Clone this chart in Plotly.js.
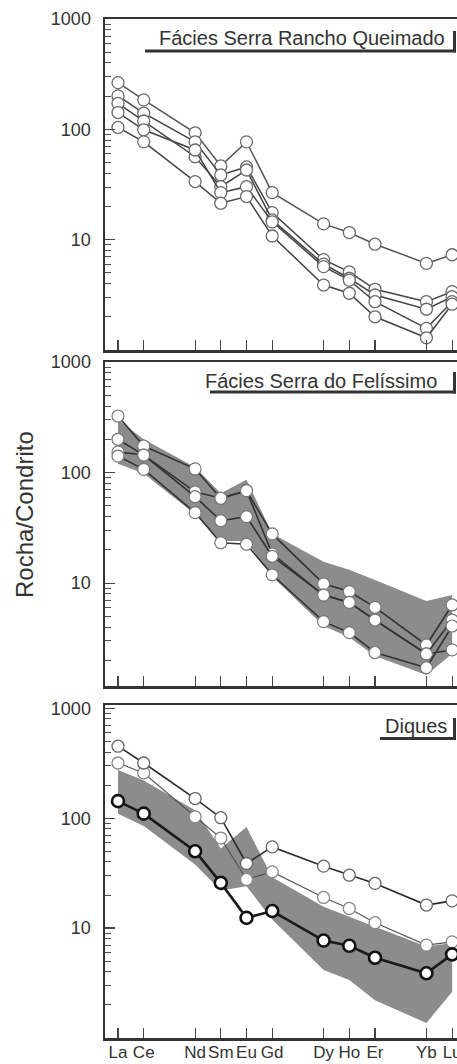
<!DOCTYPE html>
<html><head><meta charset="utf-8">
<script src="https://cdn.plot.ly/plotly-3.0.1.min.js"></script>
<style>html,body{margin:0;padding:0;background:#fff;overflow:hidden}</style>
</head><body><div id="chart" style="width:457px;height:1064px"></div>
<script>
// REE labels and their positions (atomic sequence, gaps for Pr, Pm, Tb, Tm)
const elements = ['La','Ce','Nd','Sm','Eu','Gd','Dy','Ho','Er','Yb','Lu'];
const elementPos = [0,1,3,4,5,6,8,9,10,12,13];

// Panel 1 – Fácies Serra Rancho Queimado
const rq1 = [265,185,93,46.6,77,26.7,13.9,11.6,9.1,6.1,7.3];
const rq2 = [201,140,77,38.6,45.6,17.6,6.6,5.1,3.55,2.74,3.38];
const rq3 = [172,119,56.5,30.2,42.8,15.1,6.0,4.47,3.15,2.34,3.04];
const rq4 = [142,99,65,26.7,30.2,14.5,5.7,4.3,2.74,1.57,2.74];
const rq5 = [104,77,33.6,21.4,24.6,10.8,3.88,3.27,2.0,1.29,2.6];

// Panel 2 – Fácies Serra do Felíssimo
const sf1 = [325,174,108,58.6,68.6,27.9,9.85,8.4,6.05,2.76,6.35];
const sf2 = [200,144,67,58.6,68.6,18.4,7.8,6.7,4.64,2.29,2.49];
const sf3 = [154,144,60.5,36.7,39.9,17.5,7.8,6.7,4.64,2.29,4.64];
const sf4 = [141,107,43.4,23.2,22.5,11.9,4.49,3.57,2.36,1.72,4.1];
const band2Upper = [300,200,112,65,86,28,15.6,13.2,10.7,6.9,7.8];
const band2Lower = [120,98,42,24,24,11.5,4.1,3.25,2.2,1.48,2.3];

// Panel 3 – Diques
const dqTop = [452,318,151,101,38.7,54.8,36.6,30.3,25.5,16.2,17.7];
const dqMid = [318,258,103,66,27.7,32.5,19,15.1,11.2,7.0,7.5];
const dqLow = [143,110,50,25.8,12.4,14.3,7.7,6.9,5.37,3.88,5.77];
const band3Upper = [275,220,118,53,83,29,15.6,12.6,10.3,6.8,7.3];
const band3Lower = [110,85,38,22,24,12,4.15,3.37,2.2,1.37,2.64];

const yTickVals = [10,100,1000];
const yTickText = ['10','100','1000'];

const W = 457, H = 1064;
const px = x => x / W;
const py = y => 1 - y / H;

function series(vals, xa, ya, lineColor, lineW, mkLine, mkLineW, mkSize) {
  return {
    x: elementPos, y: vals, xaxis: xa, yaxis: ya, type: 'scatter', mode: 'lines+markers',
    line: {color: lineColor, width: lineW},
    marker: {symbol: 'circle', size: mkSize || 12, color: '#ffffff', line: {color: mkLine, width: mkLineW}},
    showlegend: false, hoverinfo: 'skip', cliponaxis: false
  };
}
function band(up, lo, xa, ya) {
  return {
    x: elementPos.concat(elementPos.slice().reverse()),
    y: up.concat(lo.slice().reverse()),
    xaxis: xa, yaxis: ya, type: 'scatter', mode: 'lines', fill: 'toself',
    fillcolor: '#8c8c8c', line: {width: 0, color: '#8c8c8c'}, showlegend: false, hoverinfo: 'skip'
  };
}

const traces = [
  series(rq1,'x','y','#555',1.5,'#6a6a6a',1.3),
  series(rq2,'x','y','#444',1.5,'#6a6a6a',1.3),
  series(rq3,'x','y','#444',1.5,'#6a6a6a',1.3),
  series(rq4,'x','y','#444',1.5,'#6a6a6a',1.3),
  series(rq5,'x','y','#444',1.5,'#6a6a6a',1.3),
  band(band2Upper, band2Lower, 'x2','y2'),
  series(sf1,'x2','y2','#333',1.6,'#777',1.2),
  series(sf2,'x2','y2','#333',1.6,'#777',1.2),
  series(sf3,'x2','y2','#333',1.6,'#777',1.2),
  series(sf4,'x2','y2','#333',1.6,'#777',1.2),
  band(band3Upper, band3Lower, 'x3','y3'),
  series(dqMid,'x3','y3','#555',1.2,'#888',1.3),
  series(dqTop,'x3','y3','#2a2a2a',1.6,'#666',1.3),
  series(dqLow,'x3','y3','#1a1a1a',2.6,'#111',2.6)
];

const minorVals = [];
[1,10,100].forEach(d => { for (let k = 2; k <= 9; k++) minorVals.push(k * d); });

const xDomain = [px(105), 1];
const xRange = [-0.506, 13.19];
function xaxis(anchor, showLabels) {
  return {
    domain: xDomain, range: xRange, anchor: anchor, showgrid: false, zeroline: false,
    showline: true, linecolor: '#333', linewidth: 2.5, mirror: true,
    ticks: 'inside', ticklen: 10, tickwidth: 1.2, tickcolor: '#444',
    tickmode: 'array', tickvals: elementPos, ticktext: elements, showticklabels: showLabels,
    tickangle: 0, ticklabelstandoff: -3, ticklabeloverflow: 'allow',
    tickfont: {family: 'Liberation Sans Narrow, Arial Narrow, Liberation Sans', size: 17, color: '#333'},
    fixedrange: true
  };
}
function yaxis(anchor, top, bottom, range) {
  return {
    domain: [py(bottom), py(top)], type: 'log', range: range, anchor: anchor,
    showgrid: false, zeroline: false, showline: true, linecolor: '#333', linewidth: 2.5, mirror: false,
    ticks: 'inside', ticklen: 10, tickwidth: 1.2, tickcolor: '#444',
    tickmode: 'array', tickvals: yTickVals, ticktext: yTickText, ticklabelstandoff: 8,
    tickfont: {family: 'Liberation Sans, Arial', size: 18, color: '#333'},
    minor: {ticks: 'inside', ticklen: 6, tickwidth: 1, tickcolor: '#555', tickmode: 'array', tickvals: minorVals, showgrid: false},
    fixedrange: true
  };
}

function titleBox(text, textRight, textMidY, lineLeft, lineY, barTop) {
  return {
    ann: {text: text, xref: 'paper', yref: 'paper', x: px(textRight), y: py(textMidY),
          xanchor: 'right', yanchor: 'middle', showarrow: false,
          font: {family: 'Liberation Sans, Arial', size: 20, color: '#333'}},
    shapes: [
      {type: 'line', xref: 'paper', yref: 'paper', x0: px(lineLeft), x1: px(456), y0: py(lineY), y1: py(lineY), line: {color: '#333', width: 3}},
      {type: 'line', xref: 'paper', yref: 'paper', x0: px(454.5), x1: px(454.5), y0: py(barTop), y1: py(lineY + 1.5), line: {color: '#333', width: 3}}
    ]
  };
}
const t1 = titleBox('Fácies Serra Rancho Queimado', 447, 38, 145, 51, 31);
const t2 = titleBox('Fácies Serra do Felíssimo', 439, 381, 210, 392, 372);
const t3 = titleBox('Diques', 449, 726, 380, 738.5, 718);

const layout = {
  width: W, height: H, margin: {l: 0, r: 0, t: 0, b: 0, pad: 0},
  paper_bgcolor: '#ffffff', plot_bgcolor: '#ffffff',
  xaxis: xaxis('y', false), xaxis2: xaxis('y2', false), xaxis3: xaxis('y3', true),
  yaxis: yaxis('x', 19, 350, [0, 3.0]),
  yaxis2: yaxis('x2', 362, 686, [0.07, 3.0]),
  yaxis3: yaxis('x3', 705, 1038, [0, 3.03]),
  annotations: [
    t1.ann, t2.ann, t3.ann,
    {text: 'Rocha/Condrito', xref: 'paper', yref: 'paper', x: px(24), y: py(515), textangle: -90,
     xanchor: 'center', yanchor: 'middle', showarrow: false,
     font: {family: 'Liberation Sans, Arial', size: 24, color: '#333'}}
  ],
  shapes: t1.shapes.concat(t2.shapes, t3.shapes),
  showlegend: false
};

Plotly.newPlot('chart', traces, layout, {displayModeBar: false, staticPlot: true});
</script>
</body></html>
